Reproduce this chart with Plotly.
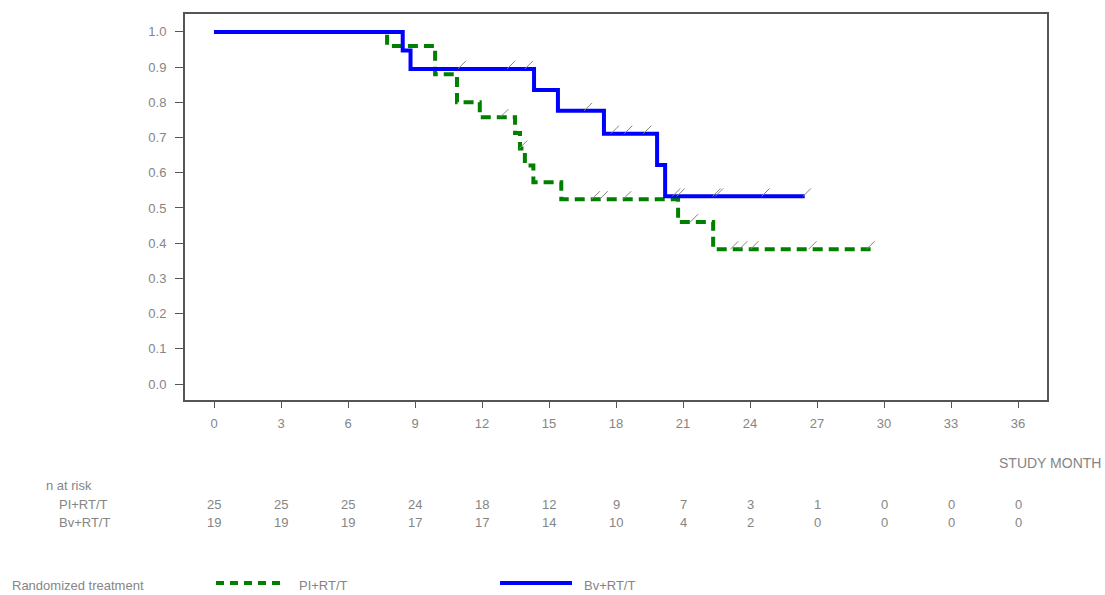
import plotly.graph_objects as go

# ---- data ----
pi_times = [0, 7.75, 9.9, 10.88, 11.9, 13.48, 13.7, 13.92, 14.3, 15.55, 20.78, 22.35]
pi_surv = [1.0, 0.96, 0.88, 0.80, 0.758, 0.713, 0.669, 0.621, 0.573, 0.525, 0.460, 0.383]
pi_end = 29.4
pi_cens_t = [13.0, 13.85, 17.1, 17.45, 18.5, 21.5, 23.3, 23.7, 24.2, 26.8, 29.4]
pi_cens_s = [0.758, 0.669, 0.525, 0.525, 0.525, 0.460, 0.383, 0.383, 0.383, 0.383, 0.383]

bv_times = [0, 8.45, 8.8, 14.33, 15.4, 17.46, 19.84, 20.2]
bv_surv = [1.0, 0.947, 0.895, 0.835, 0.776, 0.711, 0.622, 0.533]
bv_end = 26.45
bv_cens_t = [11.1, 13.3, 14.1, 16.75, 17.95, 18.55, 19.4, 20.7, 20.9, 22.5, 22.62, 24.7, 26.55]
bv_cens_s = [0.895, 0.895, 0.895, 0.776, 0.711, 0.711, 0.711, 0.533, 0.533, 0.533, 0.533, 0.533, 0.533]

risk_months = [0, 3, 6, 9, 12, 15, 18, 21, 24, 27, 30, 33, 36]
risk_pi = [25, 25, 25, 24, 18, 12, 9, 7, 3, 1, 0, 0, 0]
risk_bv = [19, 19, 19, 17, 17, 14, 10, 4, 2, 0, 0, 0, 0]
y_ticks = [0.0, 0.1, 0.2, 0.3, 0.4, 0.5, 0.6, 0.7, 0.8, 0.9, 1.0]

group_names = ["PI+RT/T", "Bv+RT/T"]

GREEN = "#008000"
BLUE = "#0000FF"
GRAY = "#858585"
FONT = "Liberation Sans"

# layout geometry (pixels)
W, H = 1105, 595
L, R, T, B = 185, 1047, 12, 400
pw, ph = R - L, B - T
px_per_month = 804 / 36.0
px_per_unit = 354.0
x0 = -(214 - L) / px_per_month
x1 = (R - 214) / px_per_month
y1 = 1.0 + (30 - T) / px_per_unit
y0 = -(B - 384) / px_per_unit
shift = 4 / px_per_unit


def px2paper_x(px):
    return (px - L) / pw


def px2paper_y(py):
    return (B - py) / ph


fig = go.Figure()

fig.add_trace(go.Scatter(
    x=pi_times + [pi_end], y=pi_surv + [pi_surv[-1]],
    mode="lines", line=dict(shape="hv", color=GREEN, width=4, dash="10px,6px"),
    showlegend=False, hoverinfo="skip"))
fig.add_trace(go.Scatter(
    x=bv_times + [bv_end], y=bv_surv + [bv_surv[-1]],
    mode="lines", line=dict(shape="hv", color=BLUE, width=4),
    showlegend=False, hoverinfo="skip"))

for ct, cs in ((pi_cens_t, pi_cens_s), (bv_cens_t, bv_cens_s)):
    fig.add_trace(go.Scatter(
        x=ct, y=cs, yaxis="y2", mode="markers",
        marker=dict(symbol="line-ne", size=8, line=dict(color=GRAY, width=1)),
        showlegend=False, hoverinfo="skip"))

fig.update_layout(
    width=W, height=H,
    margin=dict(l=L, r=W - R, t=T, b=H - B),
    paper_bgcolor="white", plot_bgcolor="white",
    font=dict(family=FONT, color=GRAY, size=12),
    xaxis=dict(range=[x0, x1], tickmode="array", tickvals=risk_months,
               ticktext=[str(m) for m in risk_months],
               showgrid=False, zeroline=False, showline=True, mirror=True,
               linecolor="#555555", linewidth=2, ticks="outside", ticklen=6,
               tickcolor="#555555", ticklabelstandoff=4,
               tickfont=dict(size=13, color=GRAY, family=FONT)),
    yaxis=dict(range=[y0, y1], tickmode="array", tickvals=y_ticks,
               ticktext=["%.1f" % v for v in y_ticks],
               showgrid=False, zeroline=False, showline=True, mirror=True,
               linecolor="#555555", linewidth=2, ticks="outside", ticklen=8,
               tickcolor="#555555", ticklabelstandoff=6,
               tickfont=dict(size=13, color=GRAY, family=FONT)),
    yaxis2=dict(range=[y0 - shift, y1 - shift], overlaying="y", visible=False),
)

ann = []
ann.append(dict(text="STUDY MONTH", x=px2paper_x(1103), y=px2paper_y(463),
                xref="paper", yref="paper", xanchor="right", yanchor="middle",
                showarrow=False, font=dict(size=14, color=GRAY, family=FONT)))
ann.append(dict(text="n at risk", x=px2paper_x(44), y=px2paper_y(486),
                xref="paper", yref="paper", xanchor="left", yanchor="middle",
                showarrow=False, font=dict(size=13, color=GRAY, family=FONT)))
for name, row, py in ((group_names[0], risk_pi, 505), (group_names[1], risk_bv, 523)):
    ann.append(dict(text=name, x=px2paper_x(57), y=px2paper_y(py),
                    xref="paper", yref="paper", xanchor="left", yanchor="middle",
                    showarrow=False, font=dict(size=13, color=GRAY, family=FONT)))
    for m, n in zip(risk_months, row):
        ann.append(dict(text=str(n), x=m, y=px2paper_y(py), xref="x", yref="paper",
                        xanchor="center", yanchor="middle", showarrow=False,
                        font=dict(size=13, color=GRAY, family=FONT)))

# legend drawn by hand
ly = px2paper_y(586)
ann.append(dict(text="Randomized treatment", x=px2paper_x(10), y=ly,
                xref="paper", yref="paper", xanchor="left", yanchor="middle",
                showarrow=False, font=dict(size=13, color=GRAY, family=FONT)))
ann.append(dict(text=group_names[0], x=px2paper_x(297), y=ly,
                xref="paper", yref="paper", xanchor="left", yanchor="middle",
                showarrow=False, font=dict(size=13, color=GRAY, family=FONT)))
ann.append(dict(text=group_names[1], x=px2paper_x(582), y=ly,
                xref="paper", yref="paper", xanchor="left", yanchor="middle",
                showarrow=False, font=dict(size=13, color=GRAY, family=FONT)))
fig.update_layout(annotations=ann)

sy = px2paper_y(584)
fig.add_shape(type="line", xref="paper", yref="paper",
              x0=px2paper_x(216), x1=px2paper_x(284), y0=sy, y1=sy,
              line=dict(color=GREEN, width=4, dash="8px,6px"))
fig.add_shape(type="line", xref="paper", yref="paper",
              x0=px2paper_x(500), x1=px2paper_x(572), y0=sy, y1=sy,
              line=dict(color=BLUE, width=4))

fig.write_html("out.html",
               config={"displayModeBar": False},
               post_script="document.body.style.margin='0';document.body.style.overflow='hidden';")
